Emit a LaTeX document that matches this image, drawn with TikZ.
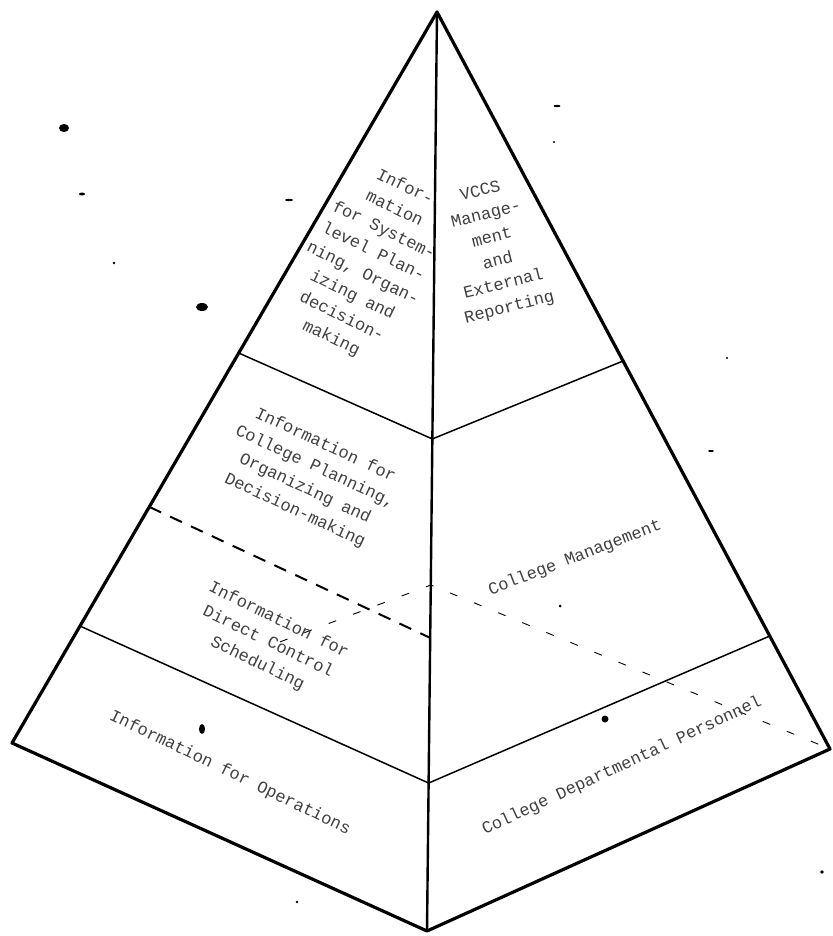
\documentclass[tikz,border=0pt]{standalone}
\usepackage{fontspec}
\setmonofont{Liberation Mono}
\usetikzlibrary{calc}
\begin{document}
\begin{tikzpicture}[x=1pt,y=-1pt,
  outer/.style={line width=3.2pt, line join=round, line cap=round},
  ridge/.style={line width=2.4pt},
  band/.style={line width=1.5pt},
  banddash/.style={line width=2pt, dash pattern=on 13pt off 10pt},
  hidden/.style={line width=0.9pt, dash pattern=on 8pt off 18pt},
  lbl/.style={font=\ttfamily\fontsize{17}{24}\selectfont, align=center, text=black!75, inner sep=0pt},
  speck/.style={fill=black, draw=none}]
\useasboundingbox (0,0) rectangle (832,936);
% corners of the pyramid
\coordinate (A) at (437,12);
\coordinate (L) at (12,743);
\coordinate (R) at (830,749);
\coordinate (B) at (427,931);
% division points
\coordinate (P1) at ($(A)!0.4665!(L)$);
\coordinate (C1) at ($(A)!0.4646!(B)$);
\coordinate (Q1) at ($(A)!0.4735!(R)$);
\coordinate (P2) at ($(A)!0.840!(L)$);
\coordinate (C2) at ($(A)!0.839!(B)$);
\coordinate (Q2) at ($(A)!0.8467!(R)$);
\coordinate (P3) at ($(A)!0.677!(L)$);
\coordinate (C3) at ($(A)!0.681!(B)$);
\coordinate (C4) at ($(A)!0.6235!(B)$);
\coordinate (H0) at ($(C4)!0.36!(L)$);
% outline and edges
\draw[outer] (A) -- (L) -- (B) -- (R) -- cycle;
\draw[ridge] (A) -- (B);
\draw[band] (P1) -- (C1) -- (Q1);
\draw[band] (P2) -- (C2) -- (Q2);
\draw[banddash] (P3) -- (C3);
\draw[hidden] (H0) -- (C4) -- (R);
% labels
\node[lbl, rotate=-26] (t1) at (368,263) {Infor-\\mation\\for System-\\level Plan-\\ning, Organ-\\izing and\\decision-\\making};
\node[lbl, rotate=14] (t2) at (495,250) {VCCS\\Manage-\\ment\\and\\External\\Reporting};
\node[lbl, rotate=-25] (t3) at (310,478) {Information for\\College Planning,\\Organizing and\\Decision-making};
\node[lbl, rotate=-26] (t4) at (268,642) {Information for\\Direct Control\\Scheduling};
\node[lbl, rotate=21] (t5) at (575,558) {College Management};
\node[lbl, rotate=-25.8] (t6) at (230,773) {Information for Operations};
\node[lbl, rotate=25] (t7) at (622,766) {College Departmental Personnel};
% specks of the scan
\fill[speck] (64,128) ellipse (5pt and 4pt);
\fill[speck] (202,307) ellipse (6pt and 4pt);
\fill[speck] (82,194) ellipse (3pt and 1.5pt);
\fill[speck] (605,719) circle (3.5pt);
\fill[speck] (202,729) ellipse (3pt and 5pt);
\fill[speck] (289,200) ellipse (4pt and 1.2pt);
\fill[speck] (557,106) ellipse (3.5pt and 1.2pt);
\fill[speck] (554,142) circle (1.2pt);
\fill[speck] (560,606) circle (1.5pt);
\fill[speck] (727,358) circle (1.2pt);
\fill[speck] (822,872) circle (1.8pt);
\fill[speck] (297,902) circle (1.3pt);
\fill[speck] (114,263) circle (1.3pt);
\fill[speck] (711,451) ellipse (3pt and 1pt);
\end{tikzpicture}
\end{document}
